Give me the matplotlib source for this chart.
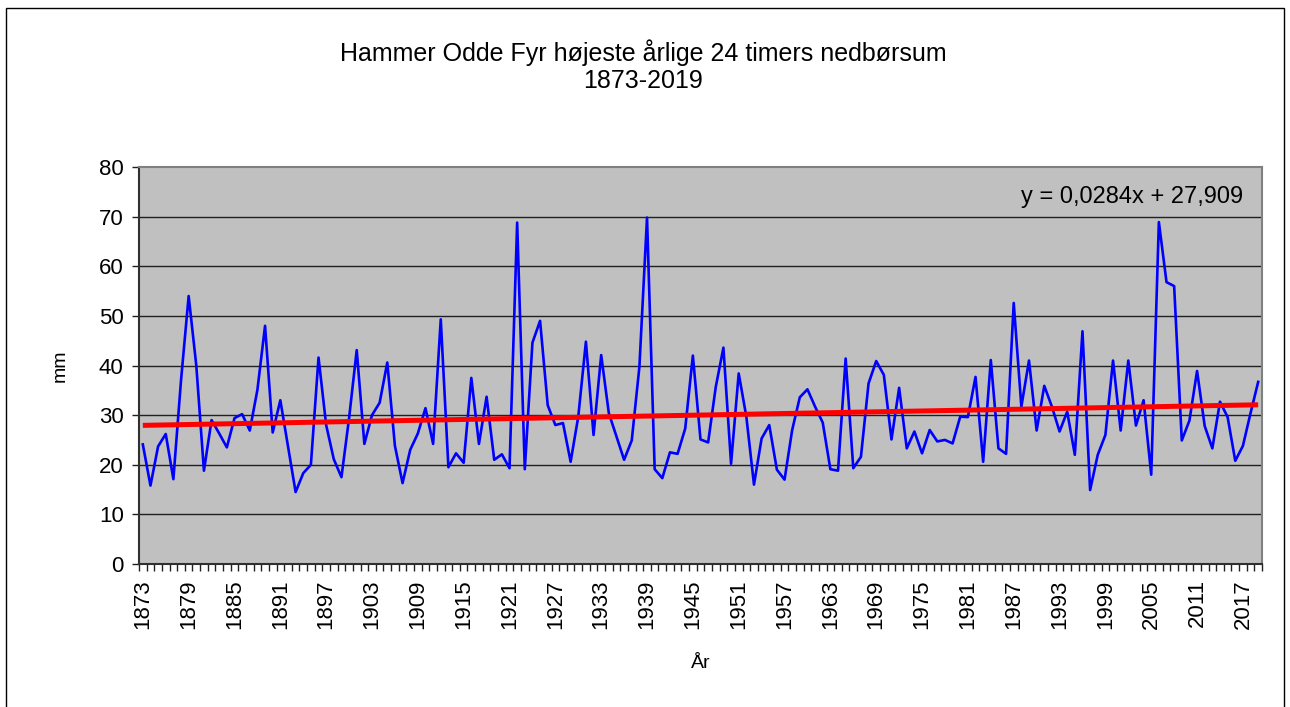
import numpy as np
import matplotlib.pyplot as plt
from matplotlib.patches import Rectangle
from matplotlib.ticker import FixedLocator

plt.rcParams['font.family'] = ['Liberation Sans', 'DejaVu Sans']

# Years and annual max 24h precipitation (mm)
years = list(range(1873, 2020))
rain = [
    24.1, 15.8, 23.7, 26.2, 17.1, 37.0, 54.0, 40.0, 18.8, 29.0,
    26.3, 23.5, 29.4, 30.2, 26.9, 35.1, 48.0, 26.5, 33.0, 23.7,
    14.5, 18.3, 20.0, 41.6, 28.0, 21.1, 17.5, 29.4, 43.1, 24.2,
    30.0, 32.5, 40.6, 23.8, 16.3, 23.0, 26.3, 31.4, 24.2, 49.3,
    19.5, 22.3, 20.4, 37.5, 24.2, 33.7, 21.0, 22.1, 19.3, 68.8,
    19.1, 44.6, 49.0, 32.0, 28.0, 28.4, 20.6, 29.7, 44.8, 26.0,
    42.1, 30.4, 25.7, 21.0, 24.9, 39.7, 69.8, 19.1, 17.3, 22.5,
    22.2, 27.3, 42.0, 25.1, 24.5, 35.7, 43.6, 20.2, 38.4, 29.7,
    16.0, 25.3, 28.0, 19.0, 17.0, 27.0, 33.6, 35.2, 31.7, 28.5,
    19.1, 18.8, 41.4, 19.3, 21.6, 36.4, 40.9, 38.1, 25.1, 35.5,
    23.3, 26.7, 22.3, 27.0, 24.7, 25.0, 24.3, 29.7, 29.6, 37.7,
    20.6, 41.1, 23.3, 22.2, 52.6, 31.7, 41.0, 26.9, 35.9, 31.7,
    26.7, 30.7, 22.0, 46.9, 14.9, 22.0, 26.0, 41.0, 26.9, 41.0,
    27.9, 33.0, 18.0, 68.9, 56.8, 56.0, 24.9, 28.9, 38.9, 27.8,
    23.3, 32.7, 29.6, 20.8, 23.8, 30.4, 36.7,
]

# Linear trend as stated on the chart (x = 1, 2, ...)
slope = 0.0284
intercept = 27.909

x = np.arange(len(years))
trend = slope * (x + 1) + intercept

fig = plt.figure(figsize=(12.9, 7.07), dpi=100)
ax = fig.add_axes([139 / 1290, 1 - 564 / 707, (1262 - 139) / 1290, (564 - 167) / 707])
ax.set_facecolor('#C0C0C0')

for g in range(10, 80, 10):
    ax.axhline(g, color='#202020', lw=1.0, zorder=1)

ax.plot(x, rain, color='#0000FF', lw=1.9, zorder=3)
ax.plot(x, trend, color='#FF0000', lw=3.6, zorder=4, solid_capstyle='butt')

ax.set_xlim(-0.5, len(years) - 0.5)
ax.set_ylim(0, 80)
ax.set_yticks(range(0, 90, 10))
ax.tick_params(axis='y', labelsize=16, length=5, width=1, color='#202020', pad=6)

label_pos = x[::6]
ax.set_xticks(label_pos)
ax.set_xticklabels([str(years[i]) for i in label_pos], rotation=90, fontsize=16)
ax.xaxis.set_minor_locator(FixedLocator(np.arange(-0.5, len(years), 1)))
ax.tick_params(axis='x', which='major', length=0, pad=11)
ax.tick_params(axis='x', which='minor', length=5, width=1, color='#202020')

for s in ['left', 'bottom']:
    ax.spines[s].set_color('#303030')
    ax.spines[s].set_linewidth(1.5)
for s in ['top', 'right']:
    ax.spines[s].set_color('#808080')
    ax.spines[s].set_linewidth(1.5)

ax.set_ylabel('mm', fontsize=14, labelpad=22)
ax.set_xlabel('År', fontsize=14, labelpad=19)

ax.text(0.884, 0.925, 'y = 0,0284x + 27,909', transform=ax.transAxes,
        fontsize=17, ha='center', va='center')

fig.text(643 / 1290, 1 - 66 / 707, 'Hammer Odde Fyr højeste årlige 24 timers nedbørsum\n1873-2019',
         fontsize=18, ha='center', va='center', linespacing=1.16)

fig.patches.append(Rectangle((6 / 1290, -0.01), (1284 - 6) / 1290, 1 - 8 / 707 + 0.01,
                             transform=fig.transFigure, fill=False, edgecolor='black', lw=1))

fig.savefig('out.png', dpi=100)
